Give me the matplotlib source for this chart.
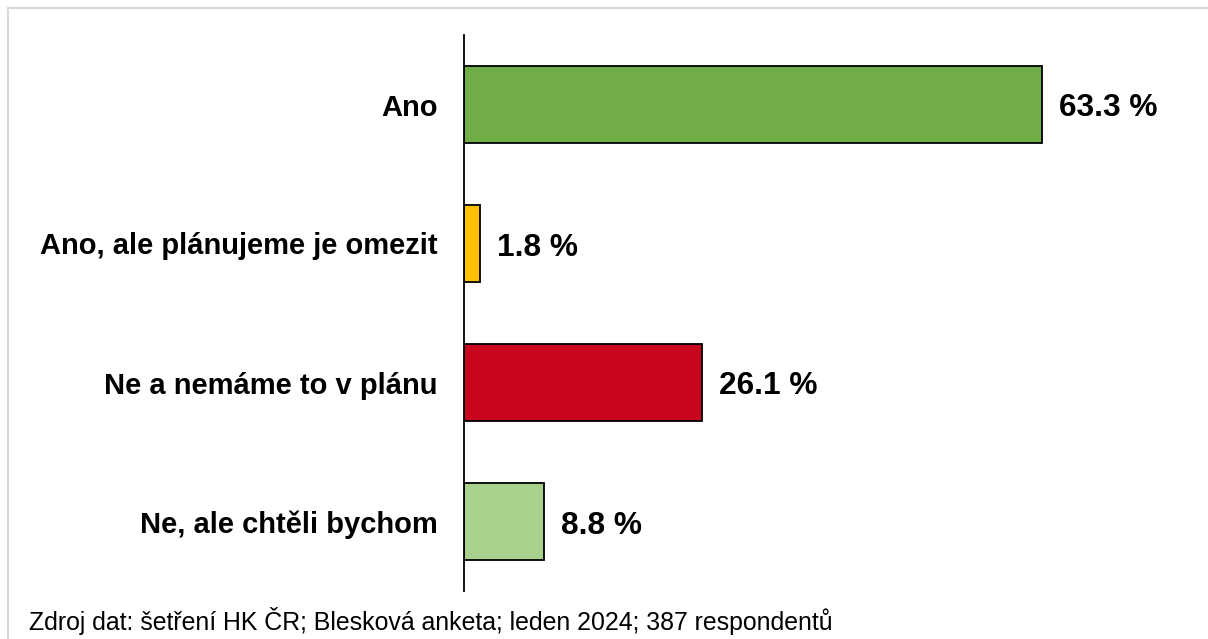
import matplotlib.pyplot as plt
from matplotlib.lines import Line2D

plt.rcParams['font.family'] = ['Liberation Sans', 'DejaVu Sans']

# data
categories = ["Ano", "Ano, ale plánujeme je omezit", "Ne a nemáme to v plánu", "Ne, ale chtěli bychom"]
values = [63.3, 1.8, 26.1, 8.8]
colors = ["#70AD47", "#FFC000", "#C8071E", "#A9D18E"]
source = "Zdroj dat: šetření HK ČR; Blesková anketa; leden 2024; 387 respondentů"

fig = plt.figure(figsize=(12.08, 6.39), dpi=100)
ax = fig.add_axes([464 / 1208, 48 / 639, 730 / 1208, 556 / 639])

ypos = list(range(len(categories)))
ax.barh(ypos, values, height=0.555, color=colors, edgecolor="black", linewidth=1.3)
ax.set_xlim(0, 80)
ax.set_ylim(len(categories) - 0.5, -0.5)

for y, v in zip(ypos, values):
    ax.annotate(f"{v:.1f} %", (v, y), xytext=(17, -4), textcoords="offset pixels",
                va="center", ha="left", fontsize=22.8, fontweight="bold")

ax.set_yticks(ypos)
ax.set_yticklabels(categories, fontsize=21, fontweight="bold")
ax.tick_params(axis="y", length=0, pad=19)
ax.set_xticks([])
for side in ["top", "right", "bottom"]:
    ax.spines[side].set_visible(False)
ax.spines["left"].set_linewidth(1.3)

# light frame around the chart area (top and left edges visible)
fig.add_artist(Line2D([8 / 1208, 1], [1 - 8 / 639, 1 - 8 / 639], color="#d9d9d9", lw=1.5))
fig.add_artist(Line2D([8 / 1208, 8 / 1208], [0, 1 - 8 / 639], color="#d9d9d9", lw=1.5))

fig.text(29 / 1208, 1 - 621 / 639, source, fontsize=17.9, va="center", ha="left")

fig.savefig("out.png", dpi=100)
